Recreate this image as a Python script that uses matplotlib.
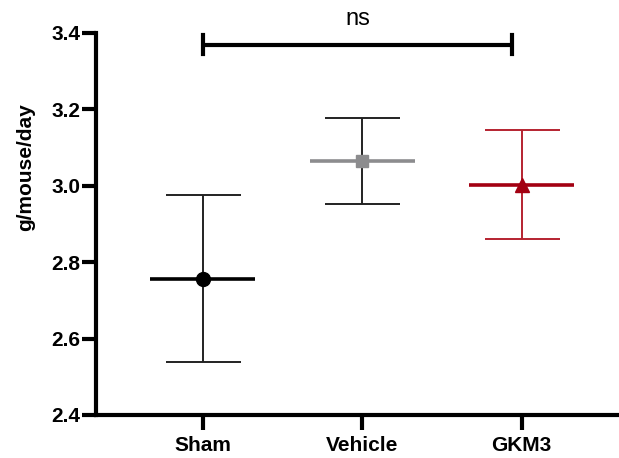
import matplotlib.pyplot as plt

groups = ["Sham", "Vehicle", "GKM3"]
means = [2.756, 3.064, 3.002]
upper = [2.977, 3.177, 3.146]
lower = [2.538, 2.952, 2.861]
bracket_y = 3.369

plt.rcParams['font.family'] = ['Liberation Sans', 'DejaVu Sans']

fig = plt.figure(figsize=(6.19, 4.58), dpi=100)
ax = fig.add_axes([0.155, 0.094, 0.845, 0.834])

marker_col = ["black", "#8c8c8e", "#a30012"]
err_col = ["#222222", "#222222", "#b52230"]
markers = ["o", "s", "^"]

for i in range(len(groups)):
    ax.errorbar(i, means[i], yerr=[[means[i] - lower[i]], [upper[i] - means[i]]],
                fmt="none", ecolor=err_col[i], elinewidth=1.4, capsize=27, capthick=1.4, zorder=2)
    ax.hlines(means[i], i - 0.33, i + 0.33, color=marker_col[i], lw=2.6, zorder=3)
    ax.plot(i, means[i], marker=markers[i], color=marker_col[i], ms=10 if i != 1 else 9, zorder=4)

# significance bracket
ax.plot([0, 1.94], [bracket_y, bracket_y], color="black", lw=3, clip_on=False, solid_capstyle="butt")
ax.plot([0, 0], [bracket_y - 0.025, bracket_y + 0.025], color="black", lw=3, clip_on=False)
ax.plot([1.94, 1.94], [bracket_y - 0.025, bracket_y + 0.025], color="black", lw=3, clip_on=False)
ax.text(0.97, bracket_y + 0.04, "ns", ha="center", va="bottom", fontsize=17)

ax.set_xlim(-0.67, 2.61)
ax.set_ylim(2.4, 3.4)
ax.set_yticks([2.4, 2.6, 2.8, 3.0, 3.2, 3.4])
ax.set_yticklabels(["2.4", "2.6", "2.8", "3.0", "3.2", "3.4"], fontsize=15, fontweight="bold")
ax.set_xticks(range(len(groups)))
ax.set_xticklabels(groups, fontsize=15, fontweight="bold")
ax.set_ylabel("g/mouse/day", fontsize=15, fontweight="bold")
ax.yaxis.set_label_coords(-0.117, 0.65)

for s in ["top", "right"]:
    ax.spines[s].set_visible(False)
for s in ["left", "bottom"]:
    ax.spines[s].set_linewidth(3)
ax.tick_params(axis="y", width=3, length=10, pad=1)
ax.tick_params(axis="x", width=3, length=11, pad=4)

fig.savefig("out.png", dpi=100)
